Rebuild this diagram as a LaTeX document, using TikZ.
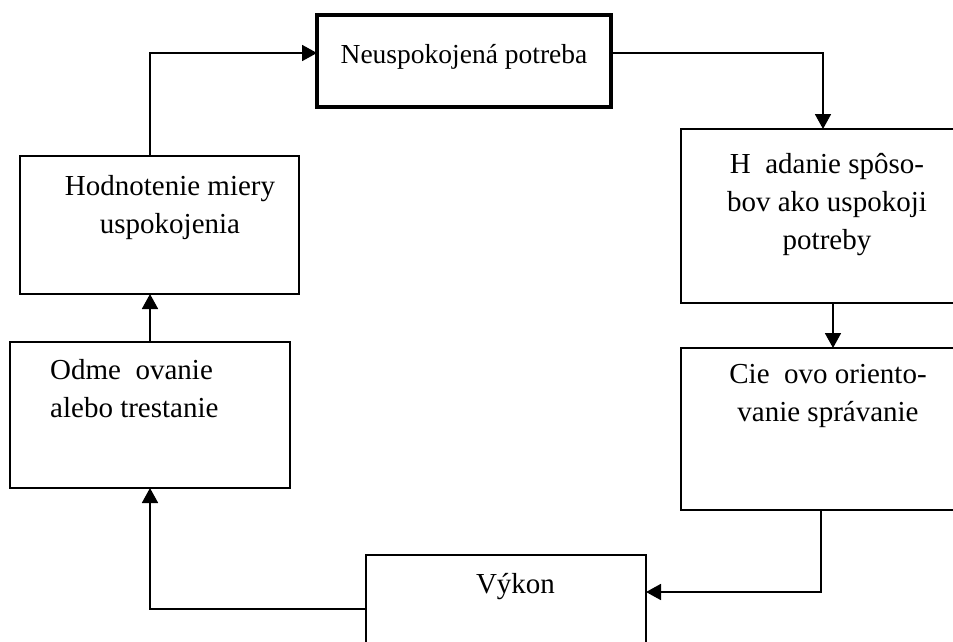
\documentclass[tikz,border=0pt]{standalone}
\usepackage{fontspec}
\setmainfont{Liberation Serif}
\usetikzlibrary{arrows.meta}
\newcommand{\gap}{\hspace{0.5em}}
\tikzset{%
box/.style={draw,line width=1.8pt,anchor=north west,inner sep=0pt,outer sep=0pt},
need/.style={box,line width=4pt},
txt/.style={font=\fontsize{29}{38}\selectfont,align=center,anchor=base,inner sep=0pt},
flow/.style={draw,line width=1.8pt,-{Triangle[length=15pt,width=16pt]}}
}
\begin{document}
\begin{tikzpicture}[x=1pt,y=-1pt]
\useasboundingbox (0,0) rectangle (953,641);
\clip (0,0) rectangle (953,641);
\node[need,minimum width=294pt,minimum height=92pt]  (need)  at (317,15)
  [label={[txt,font=\fontsize{27.5}{38}\selectfont,yshift=-48pt]north:{Neuspokojená potreba}}] {};
\node[box,minimum width=304pt,minimum height=174pt]  (hlad)  at (681,129)
  [label={[txt,xshift=-6pt,yshift=-120pt]north:{H\gap adanie spôso-\\bov ako uspokoji\\potreby}}] {};
\node[box,minimum width=304pt,minimum height=162pt]  (ciel)  at (681,348)
  [label={[txt,xshift=-5pt,yshift=-73pt]north:{Cie\gap ovo oriento-\\vanie správanie}}] {};
\node[box,minimum width=280pt,minimum height=120pt]  (vykon) at (366,555)
  [label={[txt,xshift=9.5pt,yshift=-38pt]north:{Výkon}}] {};
\node[box,minimum width=280pt,minimum height=146pt]  (odm)   at (10,342)
  [label={[txt,align=left,anchor=base west,xshift=40pt,yshift=-75pt]north west:{Odme\gap ovanie\\alebo trestanie}}] {};
\node[box,minimum width=279pt,minimum height=138pt]  (hodn)  at (20,156)
  [label={[txt,xshift=10.5pt,yshift=-77pt]north:{Hodnotenie miery\\uspokojenia}}] {};

\draw[flow] ([yshift=8pt]need.east) -| ([xshift=-10pt]hlad.north);
\draw[flow] (hlad) -- (ciel);
\draw[flow] ([xshift=-12pt]ciel.south) |- ([yshift=23pt]vykon.east);
\draw[flow] ([yshift=6pt]vykon.west) -| (odm.south);
\draw[flow] (odm.north) -- (odm.north |- hodn.south);
\draw[flow] ([xshift=-9.5pt]hodn.north) |- ([yshift=8pt]need.west);
\end{tikzpicture}
\end{document}
